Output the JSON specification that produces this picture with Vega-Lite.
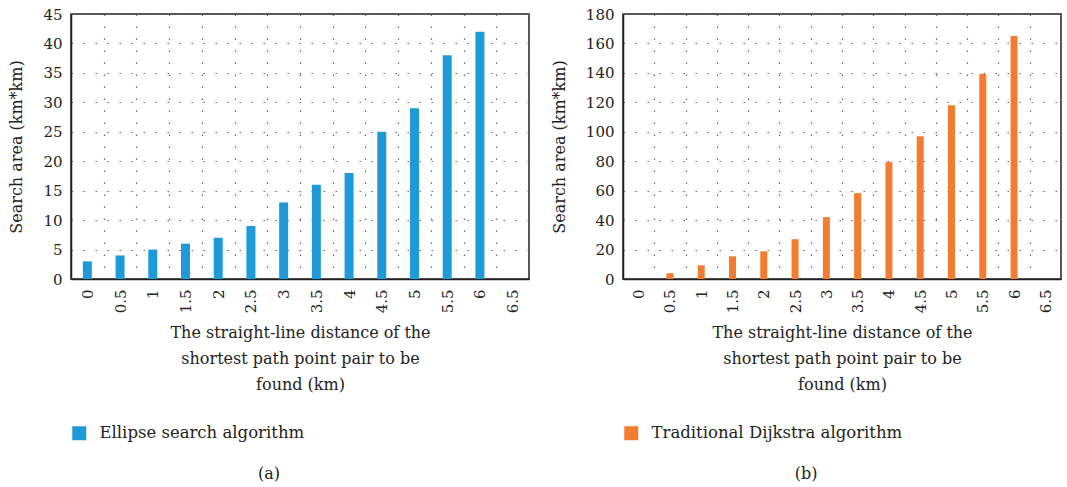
{
  "$schema": "https://vega.github.io/schema/vega-lite/v6.json",
  "background": "white",
  "padding": {"left": 8, "top": 6, "right": 0, "bottom": 0},
  "spacing": 20,
  "datasets": {
    "ellipse": [
      {"d": "0", "area": 3, "algorithm": "Ellipse search algorithm"},
      {"d": "0.5", "area": 4, "algorithm": "Ellipse search algorithm"},
      {"d": "1", "area": 5, "algorithm": "Ellipse search algorithm"},
      {"d": "1.5", "area": 6, "algorithm": "Ellipse search algorithm"},
      {"d": "2", "area": 7, "algorithm": "Ellipse search algorithm"},
      {"d": "2.5", "area": 9, "algorithm": "Ellipse search algorithm"},
      {"d": "3", "area": 13, "algorithm": "Ellipse search algorithm"},
      {"d": "3.5", "area": 16, "algorithm": "Ellipse search algorithm"},
      {"d": "4", "area": 18, "algorithm": "Ellipse search algorithm"},
      {"d": "4.5", "area": 25, "algorithm": "Ellipse search algorithm"},
      {"d": "5", "area": 29, "algorithm": "Ellipse search algorithm"},
      {"d": "5.5", "area": 38, "algorithm": "Ellipse search algorithm"},
      {"d": "6", "area": 42, "algorithm": "Ellipse search algorithm"}
    ],
    "dijkstra": [
      {"d": "0", "area": 0, "algorithm": "Traditional Dijkstra algorithm"},
      {"d": "0.5", "area": 3.9, "algorithm": "Traditional Dijkstra algorithm"},
      {"d": "1", "area": 9.3, "algorithm": "Traditional Dijkstra algorithm"},
      {"d": "1.5", "area": 15.4, "algorithm": "Traditional Dijkstra algorithm"},
      {"d": "2", "area": 18.8, "algorithm": "Traditional Dijkstra algorithm"},
      {"d": "2.5", "area": 27, "algorithm": "Traditional Dijkstra algorithm"},
      {"d": "3", "area": 42, "algorithm": "Traditional Dijkstra algorithm"},
      {"d": "3.5", "area": 58.3, "algorithm": "Traditional Dijkstra algorithm"},
      {"d": "4", "area": 79.4, "algorithm": "Traditional Dijkstra algorithm"},
      {"d": "4.5", "area": 97, "algorithm": "Traditional Dijkstra algorithm"},
      {"d": "5", "area": 118.1, "algorithm": "Traditional Dijkstra algorithm"},
      {"d": "5.5", "area": 139.2, "algorithm": "Traditional Dijkstra algorithm"},
      {"d": "6", "area": 165, "algorithm": "Traditional Dijkstra algorithm"}
    ]
  },
  "config": {
    "font": "DejaVu Serif",
    "view": {"stroke": "#222", "strokeWidth": 1.5},
    "axis": {
      "labelFont": "DejaVu Serif",
      "titleFont": "DejaVu Serif",
      "labelColor": "#222",
      "titleColor": "#222",
      "labelFontSize": 15,
      "titleFontSize": 16,
      "titleFontWeight": "normal",
      "ticks": false,
      "domainColor": "#222",
      "domainWidth": 1.5,
      "gridColor": "#666",
      "gridDash": [1.5, 10.5],
      "gridWidth": 1.2
    },
    "legend": {
      "labelFont": "DejaVu Serif",
      "labelFontSize": 16.5,
      "labelColor": "#222",
      "labelLimit": 0,
      "symbolType": "square",
      "symbolSize": 196,
      "symbolStrokeWidth": 0,
      "padding": 0,
      "labelOffset": 12
    },
    "title": {
      "font": "DejaVu Serif",
      "fontSize": 16,
      "fontWeight": "normal",
      "color": "#222"
    }
  },
  "hconcat": [
    {
      "data": {"name": "ellipse"},
      "width": 458,
      "height": 265,
      "title": {"text": "(a)", "orient": "bottom", "anchor": "middle", "frame": "bounds", "offset": 24},
      "mark": {"type": "bar", "width": 9},
      "encoding": {
        "x": {
          "field": "d",
          "type": "ordinal",
          "sort": null,
          "scale": {"domain": ["0","0.5","1","1.5","2","2.5","3","3.5","4","4.5","5","5.5","6","6.5"], "paddingInner": 0, "paddingOuter": 0},
          "axis": {
            "labelAngle": 270,
            "labelPadding": 10,
            "tickBand": "extent",
            "grid": true,
            "title": ["The straight-line distance of the", "shortest path point pair to be", "found (km)"],
            "titleLineHeight": 26,
            "titlePadding": 12
          }
        },
        "y": {
          "field": "area",
          "type": "quantitative",
          "scale": {"domain": [0, 45], "nice": false},
          "axis": {
            "values": [0,5,10,15,20,25,30,35,40,45],
            "title": "Search area (km*km)",
            "labelPadding": 9,
            "titlePadding": 18,
            "grid": true
          }
        },
        "color": {
          "field": "algorithm",
          "type": "nominal",
          "scale": {"range": ["#1e9bd7"]},
          "legend": {"title": null, "orient": "none", "legendX": 0, "legendY": 411}
        }
      }
    },
    {
      "data": {"name": "dijkstra"},
      "width": 438,
      "height": 265,
      "title": {"text": "(b)", "orient": "bottom", "anchor": "middle", "frame": "bounds", "offset": 24},
      "mark": {"type": "bar", "width": 7},
      "encoding": {
        "x": {
          "field": "d",
          "type": "ordinal",
          "sort": null,
          "scale": {"domain": ["0","0.5","1","1.5","2","2.5","3","3.5","4","4.5","5","5.5","6","6.5"], "paddingInner": 0, "paddingOuter": 0},
          "axis": {
            "labelAngle": 270,
            "labelPadding": 10,
            "tickBand": "extent",
            "grid": true,
            "title": ["The straight-line distance of the", "shortest path point pair to be", "found (km)"],
            "titleLineHeight": 26,
            "titlePadding": 12
          }
        },
        "y": {
          "field": "area",
          "type": "quantitative",
          "scale": {"domain": [0, 180], "nice": false},
          "axis": {
            "values": [0,20,40,60,80,100,120,140,160,180],
            "title": "Search area (km*km)",
            "labelPadding": 9,
            "titlePadding": 18,
            "grid": true
          }
        },
        "color": {
          "field": "algorithm",
          "type": "nominal",
          "scale": {"range": ["#f47c30"]},
          "legend": {"title": null, "orient": "none", "legendX": 0, "legendY": 411}
        }
      }
    }
  ],
  "resolve": {"scale": {"color": "independent"}, "legend": {"color": "independent"}}
}
